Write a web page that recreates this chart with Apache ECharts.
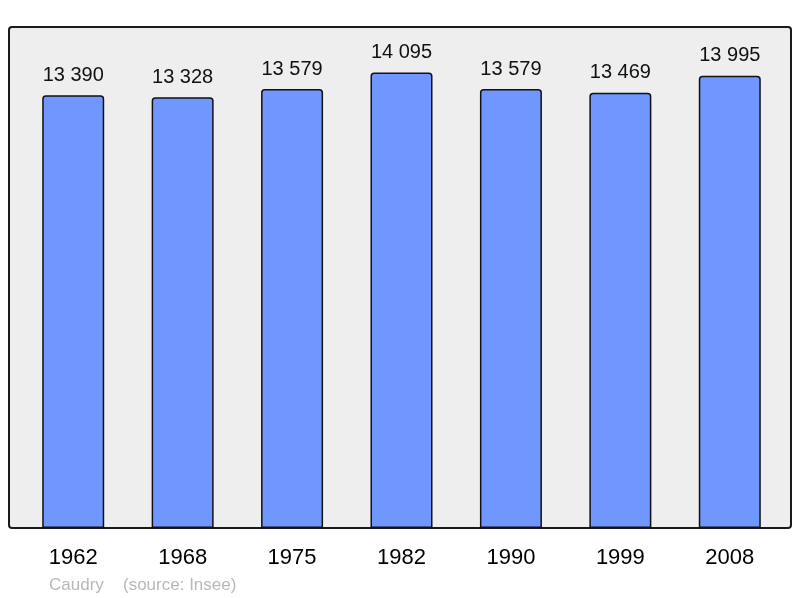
<!DOCTYPE html>
<html>
<head>
<meta charset="utf-8">
<script src="https://cdn.jsdelivr.net/npm/echarts@6/dist/echarts.min.js"></script>
<style>
  html, body { margin: 0; padding: 0; background: #fff; }
  #chart { width: 800px; height: 598px; }
</style>
</head>
<body>
<div id="chart"></div>
<script>
// données
const years = ['1962', '1968', '1975', '1982', '1990', '1999', '2008']
const population = [13390, 13328, 13579, 14095, 13579, 13469, 13995]
const commune = 'Caudry'
const source = '(source: Insee)'

const chart = echarts.init(document.getElementById('chart'))

// format "13 390"
function fmt(v) {
  return String(v).replace(/\B(?=(\d{3})+(?!\d))/g, ' ')
}

const option = {
  animation: false,
  textStyle: { fontFamily: 'Liberation Sans, Arial, sans-serif' },
  graphic: [
    {
      type: 'rect',
      z: -10,
      shape: { x: 9, y: 27, width: 782, height: 501, r: 3 },
      style: { fill: '#eeeeee', stroke: '#1a1a1a', lineWidth: 2 }
    },
    {
      type: 'text',
      left: 49,
      top: 577,
      style: { text: commune, fill: '#b8b8b8', fontSize: 17, fontFamily: 'Liberation Sans, Arial, sans-serif' }
    },
    {
      type: 'text',
      left: 123,
      top: 577,
      style: { text: source, fill: '#b8b8b8', fontSize: 17, fontFamily: 'Liberation Sans, Arial, sans-serif' }
    }
  ],
  grid: {
    left: 18.5,
    right: 15.5,
    top: 27,
    bottom: 70
  },
  xAxis: {
    type: 'category',
    data: years,
    axisLine: { show: false },
    axisTick: { show: false },
    axisLabel: {
      color: '#000',
      fontSize: 22,
      margin: 19
    }
  },
  yAxis: {
    type: 'value',
    min: 0,
    max: 15500,
    show: false,
    splitLine: { show: false }
  },
  series: [
    {
      type: 'bar',
      data: population,
      barWidth: 62,
      itemStyle: {
        color: '#7097ff',
        borderColor: '#111',
        borderWidth: 1.5,
        borderRadius: [3, 3, 0, 0]
      },
      label: {
        show: true,
        position: 'top',
        distance: 10,
        color: '#111',
        fontSize: 20,
        formatter: p => fmt(p.value)
      }
    }
  ]
}

chart.setOption(option)
</script>
</body>
</html>
